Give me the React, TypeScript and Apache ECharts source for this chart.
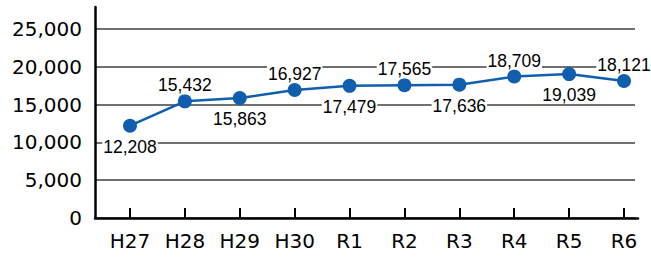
import React, { useEffect, useRef } from "react";
import * as echarts from "echarts";

const categories = ["H27", "H28", "H29", "H30", "R1", "R2", "R3", "R4", "R5", "R6"];
const values = [12208, 15432, 15863, 16927, 17479, 17565, 17636, 18709, 19039, 18121];
const labelSides = ["bottom", "top", "bottom", "top", "bottom", "top", "bottom", "top", "bottom", "top"];

export default function App() {
  const ref = useRef<HTMLDivElement>(null);
  useEffect(() => {
    const chart = echarts.init(ref.current!, null, { renderer: "svg" });
    const fmt = (v: number) => v.toLocaleString("en-US");
    chart.setOption({
      animation: false,
      backgroundColor: "#ffffff",
      grid: [
        { left: 95, right: 13, top: 7, bottom: 43 },
        { left: 95, right: 16, top: 29, bottom: 43 },
        { left: 130, right: 27, top: 29, bottom: 43 },
      ],
      xAxis: [
        {
          gridIndex: 0, type: "value", min: 0, max: 1, z: 5,
          axisLine: { show: true, lineStyle: { color: "#000", width: 2.5 } },
          axisTick: { show: false }, axisLabel: { show: false }, splitLine: { show: false },
        },
        {
          gridIndex: 1, type: "value", min: 0, max: 1, show: false,
        },
        {
          gridIndex: 2, type: "category", data: categories, boundaryGap: false, z: 6,
          axisLine: { show: false },
          axisTick: { show: true, inside: true, length: 10, lineStyle: { color: "#000", width: 2 } },
          axisLabel: { color: "#000", fontSize: 20, fontFamily: "DejaVu Sans", margin: 13 },
          splitLine: { show: false },
        },
      ],
      yAxis: [
        {
          gridIndex: 0, type: "value", min: 0, max: 1, z: 5,
          axisLine: { show: true, lineStyle: { color: "#000", width: 2.5 } },
          axisTick: { show: false }, axisLabel: { show: false }, splitLine: { show: false },
        },
        {
          gridIndex: 1, type: "value", min: 0, max: 25000, interval: 5000, z: 1,
          axisLine: { show: false }, axisTick: { show: false },
          axisLabel: {
            color: "#000", fontSize: 20, fontFamily: "DejaVu Sans", margin: 13,
            formatter: (v: number) => fmt(v),
          },
          splitLine: { show: true, lineStyle: { color: "#707070", width: 2 } },
        },
        {
          gridIndex: 2, type: "value", min: 0, max: 25000, show: false,
        },
      ],
      series: [
        {
          type: "line",
          xAxisIndex: 2,
          yAxisIndex: 2,
          z: 10,
          data: values.map((v, i) => ({
            value: v,
            label: {
              position: labelSides[i],
              distance: labelSides[i] === "top" ? 0 : 5,
            },
          })),
          symbol: "circle",
          symbolSize: 14,
          lineStyle: { color: "#0f5fae", width: 2.5 },
          itemStyle: { color: "#0f5fae" },
          label: {
            show: true,
            color: "#000",
            fontSize: 17.5,
            fontFamily: "Liberation Sans",
            backgroundColor: "#ffffff",
            padding: [0, 1],
            formatter: (p: any) => fmt(p.value),
          },
        },
      ],
    });
    return () => chart.dispose();
  }, []);
  return <div ref={ref} style={{ width: 651, height: 261, position: "absolute", left: 0, top: 0 }} />;
}
